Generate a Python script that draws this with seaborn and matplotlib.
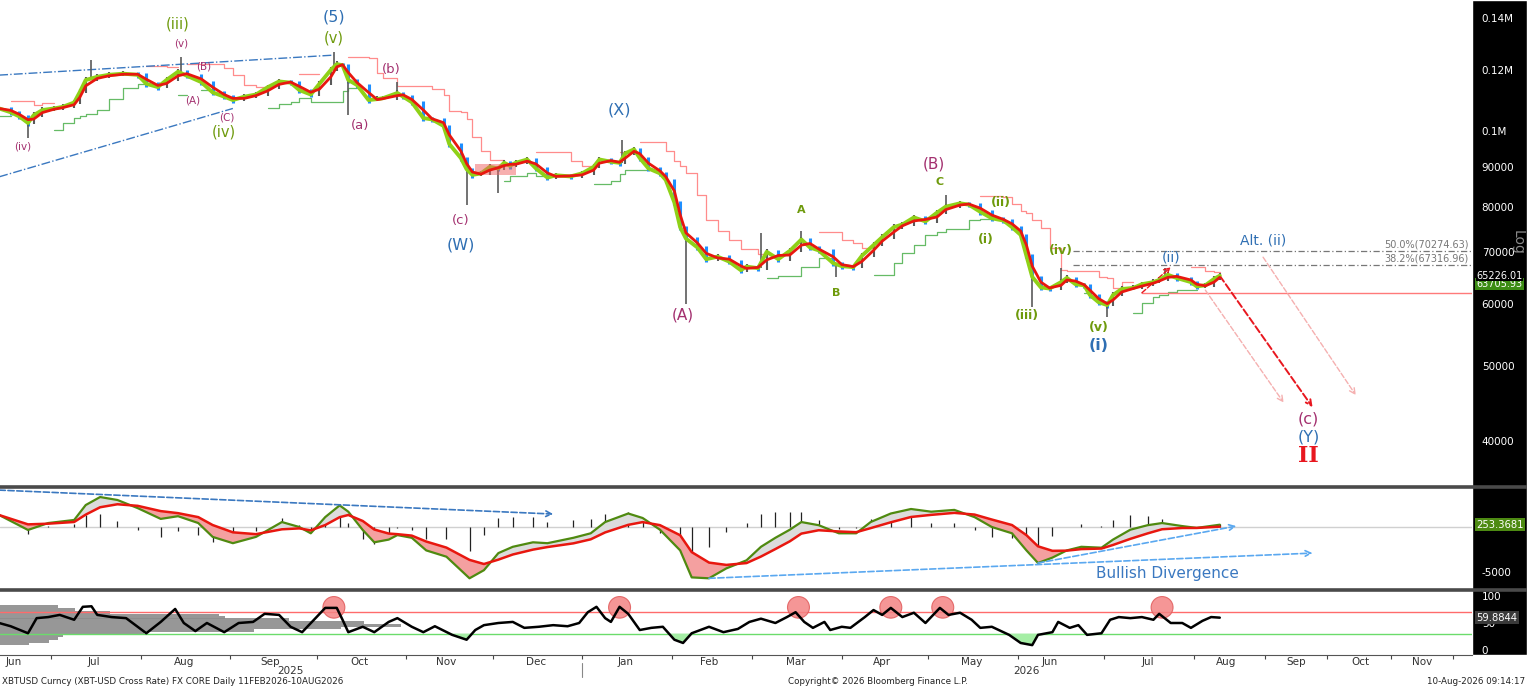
import numpy as np
import pandas as pd
import matplotlib
matplotlib.use("Agg")
import matplotlib.pyplot as plt
import matplotlib.transforms as mtransforms
from matplotlib.patches import Rectangle, Ellipse
from matplotlib.lines import Line2D
from matplotlib.ticker import NullLocator, NullFormatter
import seaborn as sns

# ---- data ----
price_dates = [
    "2025-06-13", "2025-06-17", "2025-06-20", "2025-06-23", "2025-06-25", "2025-06-28",
    "2025-07-02", "2025-07-05", "2025-07-09", "2025-07-11", "2025-07-13", "2025-07-17", "2025-07-21", "2025-07-26", "2025-07-31",
    "2025-08-03", "2025-08-07", "2025-08-10", "2025-08-14", "2025-08-17", "2025-08-22", "2025-08-26", "2025-08-30",
    "2025-09-02", "2025-09-06", "2025-09-10", "2025-09-14", "2025-09-18", "2025-09-22", "2025-09-25", "2025-09-29",
    "2025-10-02", "2025-10-06", "2025-10-08", "2025-10-10", "2025-10-12", "2025-10-15", "2025-10-19", "2025-10-22", "2025-10-24", "2025-10-29", "2025-10-31",
    "2025-11-03", "2025-11-07", "2025-11-10", "2025-11-14", "2025-11-16", "2025-11-20", "2025-11-22", "2025-11-24", "2025-11-27", "2025-11-30",
    "2025-12-03", "2025-12-05", "2025-12-07", "2025-12-09", "2025-12-13", "2025-12-16", "2025-12-20", "2025-12-23", "2025-12-28",
    "2026-01-01", "2026-01-05", "2026-01-07", "2026-01-11", "2026-01-14", "2026-01-16", "2026-01-19", "2026-01-21", "2026-01-24", "2026-01-28", "2026-01-30",
    "2026-02-02", "2026-02-04", "2026-02-06", "2026-02-10", "2026-02-13", "2026-02-17", "2026-02-21", "2026-02-25", "2026-02-27",
    "2026-03-03", "2026-03-06", "2026-03-10", "2026-03-14", "2026-03-18", "2026-03-21", "2026-03-24", "2026-03-29",
    "2026-04-01", "2026-04-05", "2026-04-08", "2026-04-12", "2026-04-15", "2026-04-19", "2026-04-22", "2026-04-26", "2026-04-30",
    "2026-05-04", "2026-05-07", "2026-05-12", "2026-05-15", "2026-05-19", "2026-05-23", "2026-05-27", "2026-05-30",
    "2026-06-02", "2026-06-04", "2026-06-06", "2026-06-09", "2026-06-12", "2026-06-16", "2026-06-18", "2026-06-21", "2026-06-24", "2026-06-26", "2026-06-29",
    "2026-07-02", "2026-07-04", "2026-07-07", "2026-07-11", "2026-07-14", "2026-07-18", "2026-07-20", "2026-07-23", "2026-07-26", "2026-07-31",
    "2026-08-02", "2026-08-05", "2026-08-08", "2026-08-10",
]
closes_k = [
    107.0, 105.8, 104.5, 102.5, 104.9, 106.5,
    107.0, 107.5, 108.9, 112.4, 116.4, 117.5, 118.2, 118.6, 118.2,
    115.1, 114.0, 116.4, 119.3, 117.9, 115.7, 112.2, 110.8,
    109.7, 110.8, 111.5, 113.9, 115.9, 115.5, 113.0, 111.5,
    115.1, 120.0, 122.0, 121.6, 116.4, 114.7, 109.7, 110.0, 110.3, 112.0, 110.8,
    109.0, 104.0, 103.6, 101.6, 96.3, 92.4, 89.4, 87.9, 88.3, 90.0,
    89.6, 91.1, 90.3, 91.1, 92.0, 89.6, 87.2, 87.8, 87.5,
    88.3, 90.0, 92.0, 91.4, 91.1, 93.7, 94.8, 92.4, 89.6, 88.3, 86.6,
    81.0, 75.3, 72.8, 70.9, 68.5, 69.0, 68.0, 66.3, 67.0,
    66.7, 70.0, 68.5, 70.2, 72.6, 70.9, 70.3, 67.7,
    67.1, 66.9, 69.2, 71.4, 73.1, 75.3, 75.9, 77.5, 76.6,
    78.6, 80.0, 80.8, 80.5, 78.8, 77.3, 76.8, 75.3,
    73.6, 69.2, 65.0, 63.0, 62.8, 64.0, 64.8, 63.6, 63.4, 61.6, 60.3,
    59.8, 61.6, 62.7, 62.9, 63.6, 64.0, 64.4, 65.4, 64.8, 64.0,
    63.2, 63.4, 64.6, 65.226,
]

# intraday extremes (wicks)
spike_dates = ["2025-06-23", "2025-07-15", "2025-08-15", "2025-10-07", "2025-10-12", "2025-10-29",
               "2025-11-22", "2025-12-03", "2026-01-15", "2026-02-06", "2026-03-04", "2026-03-18",
               "2026-03-30", "2026-05-07", "2026-06-06", "2026-06-16", "2026-07-02", "2026-07-22"]
spike_k = [98.0, 123.5, 124.5, 126.5, 104.9, 115.7,
           80.5, 83.4, 97.6, 60.0, 74.0, 74.5,
           65.0, 82.9, 59.5, 66.8, 57.8, 66.8]

macd_dates = [
    "2025-06-13", "2025-06-23", "2025-06-30", "2025-07-09", "2025-07-13", "2025-07-18", "2025-07-24", "2025-07-31",
    "2025-08-08", "2025-08-14", "2025-08-21", "2025-08-26", "2025-09-02", "2025-09-10", "2025-09-19", "2025-09-25",
    "2025-09-29", "2025-10-04", "2025-10-09", "2025-10-12", "2025-10-17", "2025-10-21", "2025-10-26", "2025-10-29",
    "2025-11-03", "2025-11-08", "2025-11-15", "2025-11-23", "2025-11-28", "2025-12-03", "2025-12-08", "2025-12-15",
    "2025-12-20", "2025-12-29", "2026-01-04", "2026-01-09", "2026-01-17", "2026-01-22", "2026-01-28", "2026-02-04",
    "2026-02-08", "2026-02-14", "2026-02-20", "2026-02-27", "2026-03-04", "2026-03-09", "2026-03-14", "2026-03-18",
    "2026-03-24", "2026-03-31", "2026-04-06", "2026-04-11", "2026-04-18", "2026-04-25", "2026-05-02", "2026-05-10",
    "2026-05-17", "2026-05-23", "2026-05-30", "2026-06-04", "2026-06-08", "2026-06-13", "2026-06-18", "2026-06-23",
    "2026-06-30", "2026-07-04", "2026-07-10", "2026-07-16", "2026-07-21", "2026-07-28", "2026-08-02", "2026-08-10",
]
macd_vals = [
    1330, -330, 440, 780, 2440, 3330, 3000, 2100,
    900, 1200, 440, -1100, -1800, -1100, 550, 0,
    -700, 1100, 2400, 1700, -330, -1700, -1400, -900,
    -1200, -2600, -3300, -5700, -4800, -2900, -2200, -1700,
    -1800, -1200, -700, 550, 1500, 1000, -300, -2600,
    -5600, -5700, -4600, -3700, -2200, -1200, -300, 550,
    200, -700, -700, 550, 1500, 2000, 1700, 1900,
    1100, 0, -700, -2600, -4000, -3400, -2600, -2200,
    -2300, -1400, -300, 200, 440, 100, -100, 253.3681,
]

rsi_dates = [
    "2025-06-13", "2025-06-17", "2025-06-23", "2025-06-26", "2025-06-30", "2025-07-04", "2025-07-09", "2025-07-12",
    "2025-07-15", "2025-07-17", "2025-07-22", "2025-07-27", "2025-08-03", "2025-08-08", "2025-08-13", "2025-08-16",
    "2025-08-20", "2025-08-24", "2025-08-30", "2025-09-04", "2025-09-09", "2025-09-13", "2025-09-18", "2025-09-22",
    "2025-09-26", "2025-10-01", "2025-10-04", "2025-10-08", "2025-10-10", "2025-10-12", "2025-10-17", "2025-10-21",
    "2025-10-26", "2025-10-29", "2025-11-03", "2025-11-07", "2025-11-11", "2025-11-17", "2025-11-22", "2025-11-25",
    "2025-11-28", "2025-12-03", "2025-12-08", "2025-12-12", "2025-12-17", "2025-12-22", "2025-12-27", "2025-12-31",
    "2026-01-03", "2026-01-06", "2026-01-09", "2026-01-11", "2026-01-14", "2026-01-17", "2026-01-21", "2026-01-25",
    "2026-01-29", "2026-02-02", "2026-02-05", "2026-02-08", "2026-02-14", "2026-02-19", "2026-02-24", "2026-02-28",
    "2026-03-04", "2026-03-09", "2026-03-13", "2026-03-16", "2026-03-19", "2026-03-22", "2026-03-26", "2026-03-28",
    "2026-04-01", "2026-04-04", "2026-04-09", "2026-04-12", "2026-04-15", "2026-04-18", "2026-04-22", "2026-04-26",
    "2026-04-30", "2026-05-05", "2026-05-08", "2026-05-12", "2026-05-16", "2026-05-19", "2026-05-23", "2026-05-29",
    "2026-06-02", "2026-06-06", "2026-06-08", "2026-06-13", "2026-06-15", "2026-06-19", "2026-06-22", "2026-06-25",
    "2026-06-30", "2026-07-03", "2026-07-06", "2026-07-10", "2026-07-14", "2026-07-18", "2026-07-20", "2026-07-24",
    "2026-07-28", "2026-07-31", "2026-08-04", "2026-08-07", "2026-08-10",
]
rsi_vals = [
    50, 44, 31, 59, 61, 65, 56, 80,
    81, 65, 61, 59, 31, 52, 76, 50,
    35, 50, 33, 50, 52, 67, 65, 43,
    33, 61, 78, 78, 56, 33, 43, 33,
    52, 59, 43, 33, 44, 28, 19, 37,
    46, 50, 52, 41, 43, 46, 44, 50,
    70, 80, 59, 52, 80, 67, 37, 41,
    43, 19, 13, 31, 43, 33, 39, 52,
    58, 50, 61, 70, 52, 41, 52, 37,
    43, 41, 61, 74, 65, 78, 61, 69,
    50, 78, 65, 69, 56, 41, 43, 28,
    13, 9, 28, 33, 52, 41, 46, 28,
    31, 56, 61, 59, 61, 56, 67, 50,
    50, 41, 54, 61, 59.8844,
]
overbought_dates = ["2025-10-07", "2026-01-14", "2026-03-17", "2026-04-18", "2026-05-06", "2026-07-21"]

profile_levels = [80, 75, 70, 65, 60, 56, 51, 46, 41, 36, 31, 26, 21, 16, 11]
profile_days = [20, 26, 38, 76, 78, 100, 126, 139, 118, 88, 50, 22, 20, 17, 10]

price_ticks = [40000, 50000, 60000, 70000, 80000, 90000, 100000, 120000, 140000]
price_tick_labels = ["40000", "50000", "60000", "70000", "80000", "90000", "0.1M", "0.12M", "0.14M"]

month_starts = ["2025-07-01", "2025-08-01", "2025-09-01", "2025-10-01", "2025-11-01", "2025-12-01",
                "2026-01-01", "2026-02-01", "2026-03-01", "2026-04-01", "2026-05-01", "2026-06-01",
                "2026-07-01", "2026-08-01", "2026-09-01", "2026-10-01", "2026-11-01", "2026-12-01"]
month_names = ["Jun", "Jul", "Aug", "Sep", "Oct", "Nov", "Dec", "Jan", "Feb", "Mar", "Apr", "May",
               "Jun", "Jul", "Aug", "Sep", "Oct", "Nov"]
month_label_dates = ["2025-06-18", "2025-07-16", "2025-08-16", "2025-09-15", "2025-10-16", "2025-11-15",
                     "2025-12-16", "2026-01-16", "2026-02-14", "2026-03-16", "2026-04-15", "2026-05-16",
                     "2026-06-12", "2026-07-16", "2026-08-13", "2026-09-16", "2026-10-17", "2026-11-16"]

fib_levels = [70274.63, 67316.96]
fib_names = ["50.0%(70274.63)", "38.2%(67316.96)"]

BLUE, MAG, OLIVE = "#2f6fb3", "#a3306f", "#6e9a0c"
wave_labels = [
    ("(5)", "2025-10-07", 140200, BLUE, 11.5, "normal"),
    ("(v)", "2025-10-07", 131800, OLIVE, 10.5, "normal"),
    ("(iii)", "2025-08-14", 137400, OLIVE, 10.5, "normal"),
    ("(v)", "2025-08-15", 129500, MAG, 7.5, "normal"),
    ("(B)", "2025-08-23", 121000, MAG, 7.5, "normal"),
    ("(A)", "2025-08-19", 109700, MAG, 7.5, "normal"),
    ("(C)", "2025-08-31", 104300, MAG, 7.5, "normal"),
    ("(iv)", "2025-08-30", 99800, OLIVE, 10.5, "normal"),
    ("(iv)", "2025-06-21", 95700, MAG, 7.5, "normal"),
    ("(b)", "2025-10-27", 120000, MAG, 9.5, "normal"),
    ("(a)", "2025-10-16", 101600, MAG, 9.5, "normal"),
    ("(c)", "2025-11-20", 76900, MAG, 9.5, "normal"),
    ("(W)", "2025-11-20", 71400, BLUE, 11.5, "normal"),
    ("(X)", "2026-01-14", 106500, BLUE, 11.5, "normal"),
    ("(A)", "2026-02-05", 58100, MAG, 11, "normal"),
    ("A", "2026-03-18", 79200, OLIVE, 8, "bold"),
    ("B", "2026-03-30", 62000, OLIVE, 8, "bold"),
    ("(B)", "2026-05-03", 90800, MAG, 11, "normal"),
    ("C", "2026-05-05", 86100, OLIVE, 8, "bold"),
    ("(ii)", "2026-05-26", 81100, OLIVE, 9, "bold"),
    ("(i)", "2026-05-21", 72500, OLIVE, 9, "bold"),
    ("(iv)", "2026-06-16", 70200, OLIVE, 9, "bold"),
    ("(iii)", "2026-06-04", 57900, OLIVE, 9, "bold"),
    ("(v)", "2026-06-29", 55900, OLIVE, 9, "bold"),
    ("(i)", "2026-06-29", 53100, BLUE, 11.5, "bold"),
    ("(ii)", "2026-07-24", 68900, BLUE, 10, "normal"),
    ("Alt. (ii)", "2026-08-31", 72300, BLUE, 10, "normal"),
    ("(c)", "2026-09-22", 42700, MAG, 11.5, "normal"),
    ("(Y)", "2026-09-22", 40500, BLUE, 11.5, "normal"),
]

# ---- helpers ----
BASE = pd.Timestamp("2025-07-01")
LAST = 405  # 10-Aug-2026, future dates are drawn on a weekday scale


def to_u(dates):
    days = (pd.to_datetime(pd.Series(dates)) - BASE).dt.days.to_numpy(dtype=float)
    return np.where(days > LAST, LAST + (days - LAST) * 5 / 7, days)


def u1(d):
    return float(to_u([d])[0])


sns.set_style("white")
plt.rcParams["font.family"] = ["DejaVu Sans"]

W, H = 1527, 687
fig = plt.figure(figsize=(W / 100, H / 100), dpi=100)


def box(x0, y0, x1, y1):
    return [x0 / W, 1 - y1 / H, (x1 - x0) / W, (y1 - y0) / H]


ax = fig.add_axes(box(0, 0, 1472, 487))
axm = fig.add_axes(box(0, 489, 1472, 589))
axr = fig.add_axes(box(0, 591, 1472, 655))
XL = (-17.7, 492.4)
for a in (ax, axm, axr):
    a.set_xlim(*XL)
    for s in a.spines.values():
        s.set_visible(False)
    a.set_facecolor("white")

# black right-hand scale panel
fig.patches.append(Rectangle((1472 / W, 1 - 655 / H), 1 - 1472 / W, 655 / H,
                             transform=fig.transFigure, facecolor="black", zorder=-5))

# ---- price panel ----
ax.set_yscale("log")
ax.set_ylim(34900, 147500)
u = to_u(price_dates)
c = np.array(closes_k) * 1000
ser = pd.Series(c)

upper = ser.rolling(4, min_periods=1).max() * 1.022
lower = ser.rolling(4, min_periods=1).min() * 0.978
falling = ser < ser.shift(5).bfill()
ax.step(u, upper.where(falling | (ser < ser.shift(2).bfill())), where="post", color="#ff8c8c", lw=0.9, zorder=2)
ax.step(u, lower.where(~falling), where="post", color="#66bb66", lw=0.9, zorder=2)

prev, cur = c[:-1], c[1:]
down = cur < prev
ax.vlines(u[1:][down], cur[down] * 0.992, prev[down] * 1.004, color="#1e8fff", lw=2.2, zorder=3)
ax.vlines(u[1:][~down], prev[~down] * 0.996, cur[~down] * 1.008, color="#5a5a5a", lw=1.5, zorder=3)
su = to_u(spike_dates)
for x, v in zip(su, spike_k):
    i = int(np.argmin(np.abs(u - x)))
    ax.vlines(x, min(v * 1000, c[i]), max(v * 1000, c[i]), color="#5a5a5a", lw=1.2, zorder=3)

sns.lineplot(x=u, y=c, ax=ax, color="#8fd117", lw=2.8, sort=False, zorder=4)
sns.lineplot(x=u, y=ser.rolling(2, min_periods=1).mean(), ax=ax, color="#e8170f", lw=2.0, sort=False, zorder=5)

# Nov/Dec congestion box
r0, r1 = u1("2025-11-25"), u1("2025-12-09")
ax.add_patch(Rectangle((r0, 87900), r1 - r0, 90700 - 87900, color="#f06060", alpha=0.5, lw=0, zorder=4))

# wedge lines
ax.plot(to_u(["2025-06-13", "2025-10-07"]), [118100, 125300], ls="-.", color="#3a78c0", lw=1.0)
ax.plot(to_u(["2025-06-13", "2025-09-02"]), [87400, 107000], ls="-.", color="#3a78c0", lw=1.0)

# fibonacci levels
for lvl, name in zip(fib_levels, fib_names):
    ax.plot([u1("2026-06-20"), XL[1]], [lvl, lvl], ls=(0, (5, 2, 1, 2)), color="#777777", lw=0.9)
    ax.text(XL[1] - 1.2, lvl * 1.004, name, ha="right", va="bottom", fontsize=7, color="#777777")

ax.plot([u1("2026-07-14"), XL[1]], [62000, 62000], color="#ff7a7a", lw=1.0)

arrows = [
    ("2026-08-10", 65200, "2026-09-24", 44200, "#e8171f", 1.4),
    ("2026-08-05", 62500, "2026-09-10", 44800, "#f5b0b0", 1.0),
    ("2026-08-31", 68900, "2026-10-15", 45800, "#f5b0b0", 1.0),
    ("2026-07-14", 62000, "2026-07-24", 66900, "#e8171f", 1.0),
]
for d0, v0, d1, v1, col, lw in arrows:
    ax.annotate("", xy=(u1(d1), v1), xytext=(u1(d0), v0),
                arrowprops=dict(arrowstyle="->", ls="--", color=col, lw=lw, shrinkA=0, shrinkB=0))

for txt, d, v, col, fs, wt in wave_labels:
    ax.text(u1(d), v, txt, color=col, fontsize=fs, fontweight=wt, ha="center", va="center")
ax.text(u1("2026-09-22"), 38200, "II", color="#e8171f", fontsize=16, fontweight="bold",
        family="DejaVu Serif", ha="center", va="center")

ax.yaxis.tick_right()
ax.set_yticks(price_ticks)
ax.set_yticklabels(price_tick_labels)
ax.yaxis.set_minor_locator(NullLocator())
ax.yaxis.set_minor_formatter(NullFormatter())
ax.tick_params(axis="y", length=0, pad=7, labelsize=7.5, labelcolor="white")
ax.tick_params(axis="x", bottom=False, labelbottom=False)
ax.set_xlabel("")
ax.set_ylabel("")
ty = ax.get_yaxis_transform()
ax.text(1.003, 63705.93, "63705.93", transform=ty, fontsize=7, color="white", va="center",
        bbox=dict(boxstyle="square,pad=0.12", fc="#3c8c14", ec="none"))
ax.text(1.003, 65226.01, "65226.01", transform=ty, fontsize=7, color="white", va="center",
        bbox=dict(boxstyle="square,pad=0.08", fc="black", ec="none"))
ax.text(1.026, 72000, "Log", transform=ty, fontsize=10, color="#8a8a8a", rotation=-90,
        ha="left", va="center")

# ---- MACD panel ----
axm.set_ylim(-6889, 4222)
mu = to_u(macd_dates)
macd = pd.Series(macd_vals, dtype=float)
signal = macd.ewm(span=4).mean()
hist = (macd - signal) * 1.3
axm.axhline(0, color="#d0d0d0", lw=1.0, zorder=1)
axm.vlines(mu, 0, hist, color="#222222", lw=0.9, zorder=2)
axm.fill_between(mu, macd, signal, where=macd < signal, interpolate=True, color="#f4a0a0", lw=0, zorder=2)
axm.fill_between(mu, macd, signal, where=macd >= signal, interpolate=True, color="#dcdcdc", lw=0, zorder=2)
sns.lineplot(x=mu, y=macd, ax=axm, color="#4f8a10", lw=1.6, sort=False, zorder=3)
sns.lineplot(x=mu, y=signal, ax=axm, color="#e8170f", lw=1.8, sort=False, zorder=4)
macd_lines = [
    ("2025-06-13", 4100, "2025-12-22", 1440, "#3a78c0"),
    ("2026-02-14", -5700, "2026-09-24", -2900, "#5aa8f0"),
    ("2026-06-08", -4000, "2026-08-18", 100, "#5aa8f0"),
]
for d0, v0, d1, v1, col in macd_lines:
    axm.annotate("", xy=(u1(d1), v1), xytext=(u1(d0), v0),
                 arrowprops=dict(arrowstyle="->", ls="--", color=col, lw=1.2, shrinkA=0, shrinkB=0))
axm.text(u1("2026-07-23"), -5222, "Bullish Divergence", color="#3a78c0", fontsize=11,
         ha="center", va="center")
axm.yaxis.tick_right()
axm.set_yticks([-5000])
axm.set_yticklabels(["-5000"])
axm.tick_params(axis="y", length=0, pad=7, labelsize=7.5, labelcolor="white")
axm.tick_params(axis="x", bottom=False, labelbottom=False)
axm.set_xlabel("")
axm.set_ylabel("")
axm.text(1.003, 253.3681, "253.3681", transform=axm.get_yaxis_transform(), fontsize=7.2,
         color="white", va="center", bbox=dict(boxstyle="square,pad=0.15", fc="#4d8a12", ec="none"))

# ---- RSI panel ----
axr.set_ylim(-9.3, 109.3)
ru = to_u(rsi_dates)
rsi = np.array(rsi_vals, dtype=float)
axr.barh(profile_levels, profile_days, left=XL[0], height=5.0, color="#8c8c8c", alpha=0.9, lw=0, zorder=1)
axr.axhline(70, color="#ff6b6b", lw=1.0, zorder=2)
axr.axhline(30, color="#6bdc6b", lw=1.0, zorder=2)
axr.fill_between(ru, rsi, 30, where=rsi < 30, interpolate=True, color="#a5eea5", lw=0, zorder=2)
for x in to_u(overbought_dates):
    axr.add_patch(Ellipse((x, 79), 7.6, 40, facecolor="#f48484", edgecolor="#e05a5a",
                          alpha=0.85, lw=0.8, zorder=2))
sns.lineplot(x=ru, y=rsi, ax=axr, color="black", lw=1.8, sort=False, zorder=3)
axr.yaxis.tick_right()
axr.set_yticks([0, 50, 100])
axr.set_yticklabels(["0", "50", "100"])
axr.tick_params(axis="y", length=0, pad=7, labelsize=7.5, labelcolor="white")
axr.set_xlabel("")
axr.set_ylabel("")
axr.text(1.003, 59.8844, "59.8844", transform=axr.get_yaxis_transform(), fontsize=7.2,
         color="white", va="center", bbox=dict(boxstyle="square,pad=0.15", fc="#3a3a3a", ec="none"))
axr.spines["bottom"].set_visible(True)
axr.spines["bottom"].set_color("#555555")
axr.spines["bottom"].set_linewidth(0.8)

# date axis
axr.set_xticks(to_u(month_starts))
axr.set_xticklabels([""] * len(month_starts))
axr.set_xticks(to_u(month_label_dates), minor=True)
axr.set_xticklabels(month_names, minor=True)
axr.tick_params(axis="x", which="major", bottom=True, length=3, color="#444444", direction="out")
axr.tick_params(axis="x", which="minor", bottom=True, length=0, pad=1.5, labelsize=7.5, labelcolor="#333333")
bt = mtransforms.blended_transform_factory(axr.transData, axr.transAxes)
axr.text(u1("2025-09-22"), -0.25, "2025", transform=bt, fontsize=7.5, color="#333333", ha="center", va="center")
axr.text(u1("2026-06-04"), -0.25, "2026", transform=bt, fontsize=7.5, color="#333333", ha="center", va="center")
axr.plot([u1("2026-01-01")] * 2, [-0.12, -0.34], transform=bt, color="#888888", lw=0.8, clip_on=False)

# panel separators
for yy in (487, 590):
    fig.add_artist(Line2D([0, 1], [1 - yy / H] * 2, transform=fig.transFigure, color="#4a4a4a", lw=2.6))

fig.text(2 / W, 1 - 682 / H, "XBTUSD Curncy (XBT-USD Cross Rate) FX CORE Daily 11FEB2026-10AUG2026",
         fontsize=6.3, color="#222222", va="center")
fig.text(878 / W, 1 - 682 / H, "Copyright\u00a9 2026 Bloomberg Finance L.P.", fontsize=6.3,
         color="#222222", va="center", ha="center")
fig.text(1525 / W, 1 - 682 / H, "10-Aug-2026 09:14:17", fontsize=6.3, color="#222222",
         va="center", ha="right")

fig.savefig("out.png", dpi=100, facecolor="white")
